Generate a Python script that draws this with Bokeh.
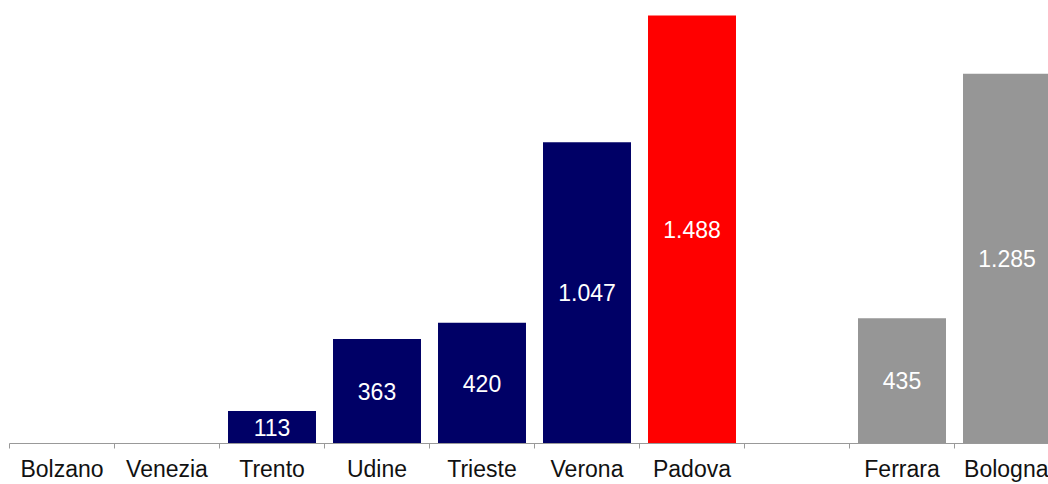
from bokeh.plotting import figure
from bokeh.models import ColumnDataSource, Range1d, FixedTicker
from bokeh.core.properties import value
from bokeh.embed import file_html
from bokeh.resources import INLINE

# ---- data ----
categories = ["Bolzano", "Venezia", "Trento", "Udine", "Trieste", "Verona", "Padova", "", "Ferrara", "Bologna"]
values = [0, 0, 113, 363, 420, 1047, 1488, None, 435, 1285]
groups = ["nord", "nord", "nord", "nord", "nord", "nord", "padova", "", "emilia", "emilia"]

palette = {"nord": "#000066", "padova": "#FF0000", "emilia": "#969696"}

xs, tops, cols, labs = [], [], [], []
for i, (c, v, g) in enumerate(zip(categories, values, groups)):
    if v is None:
        continue
    xs.append(i + 0.5)
    tops.append(v)
    cols.append(palette[g])
    labs.append(f"{v:,}".replace(",", "."))
mids = [t / 2 for t in tops]

src = ColumnDataSource(dict(x=xs, top=tops, color=cols, label=labs, mid=mids))

FONT = "Liberation Sans"

p = figure(width=1048, height=484, output_backend="svg", toolbar_location=None,
           x_range=Range1d(0, 1039 / 105), y_range=Range1d(0, 1540),
           min_border_left=9, min_border_right=0, min_border_top=0, min_border_bottom=0,
           background_fill_color="white", border_fill_color="white")
p.outline_line_color = None
p.xgrid.visible = False
p.ygrid.visible = False
p.yaxis.visible = False

p.vbar(x="x", top="top", width=0.838, bottom=0, color="color", line_color=None, source=src)
p.text(x="x", y="mid", text="label", source=src, text_color="white",
       text_align="center", text_baseline="middle",
       text_font=value(FONT), text_font_size="23px")

centers = [i + 0.5 for i in range(len(categories))]
bounds = [float(i) for i in range(len(categories) + 1)]
ax = p.xaxis[0]
ax.ticker = FixedTicker(ticks=centers, minor_ticks=bounds)
ax.major_label_overrides = {c: n for c, n in zip(centers, categories)}
ax.major_tick_in = 0
ax.major_tick_out = 0
ax.minor_tick_in = 0
ax.minor_tick_out = 5
ax.minor_tick_line_color = "#999999"
ax.axis_line_color = "#999999"
ax.major_label_standoff = 7
ax.major_label_text_font = FONT
ax.major_label_text_font_size = "23px"
ax.major_label_text_color = "#111111"

open("out.html", "w").write(file_html(p, INLINE))
